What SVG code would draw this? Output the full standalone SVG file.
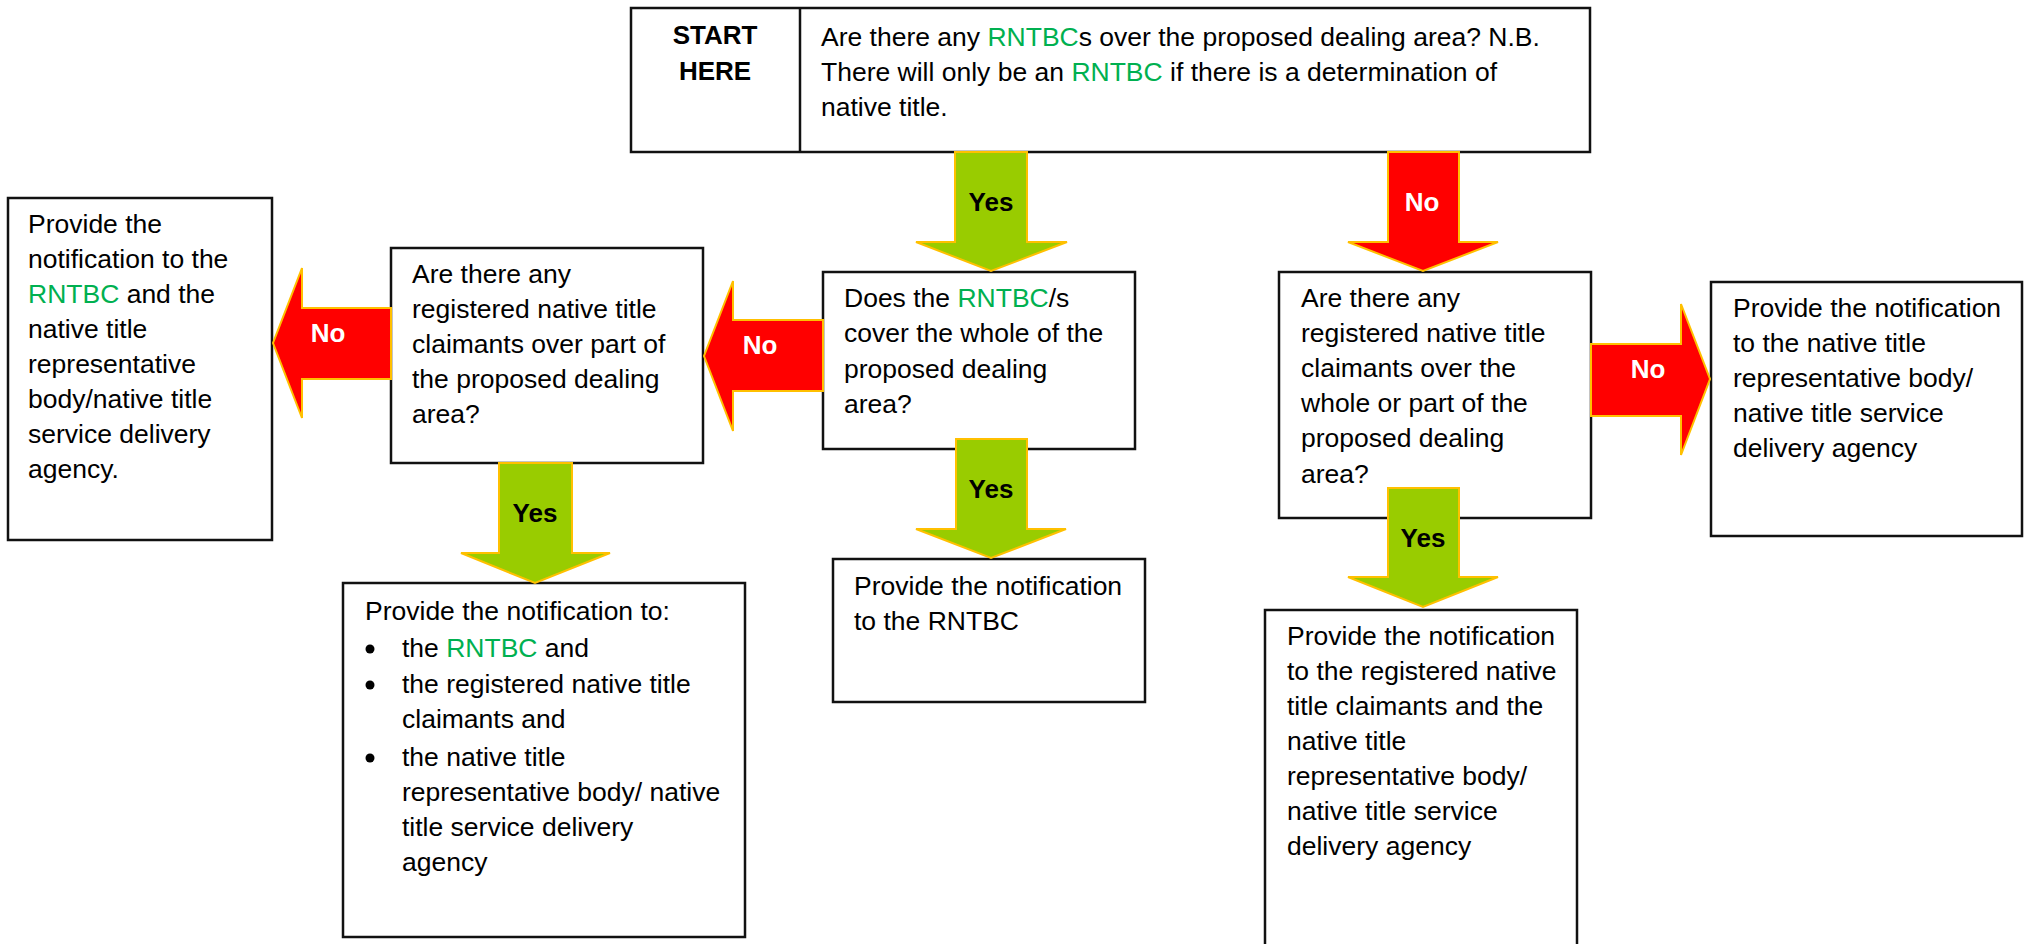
<svg xmlns="http://www.w3.org/2000/svg" width="2032" height="944" viewBox="0 0 2032 944">
<style>
  .box { fill: #ffffff; stroke: #111111; stroke-width: 2.5; }
  .t { font-family: "Liberation Sans", Arial, sans-serif; font-size: 26.5px; fill: #000000; }
  .b { font-family: "Liberation Sans", Arial, sans-serif; font-size: 26px; font-weight: bold; }
  .g { fill: #00B050; }
  .yes { fill: #99CC00; stroke: #FFC000; stroke-width: 2; stroke-linejoin: miter; }
  .no { fill: #FF0000; stroke: #FFC000; stroke-width: 2; stroke-linejoin: miter; }
  .lblY { fill: #000000; text-anchor: middle; }
  .lblN { fill: #ffffff; text-anchor: middle; }
</style>
<rect x="0" y="0" width="2032" height="944" fill="#ffffff"/>

<g id="start">
  <rect class="box" x="631" y="8" width="959" height="144"/>
  <line x1="800" y1="8" x2="800" y2="152" stroke="#111111" stroke-width="2.5"/>
  <text class="b" x="715" y="44" text-anchor="middle">START</text>
  <text class="b" x="715" y="80" text-anchor="middle">HERE</text>
  <text class="t" x="821" y="46">Are there any <tspan class="g">RNTBC</tspan>s over the proposed dealing area? N.B.</text>
  <text class="t" x="821" y="81">There will only be an <tspan class="g">RNTBC</tspan> if there is a determination of</text>
  <text class="t" x="821" y="116">native title.</text>
</g>

<g id="q-rntbc-whole">
  <rect class="box" x="823" y="272" width="312" height="177"/>
  <text class="t" x="844" y="307">Does the <tspan class="g">RNTBC</tspan>/s</text>
  <text class="t" x="844" y="342">cover the whole of the</text>
  <text class="t" x="844" y="378">proposed dealing</text>
  <text class="t" x="844" y="413">area?</text>
</g>

<g id="q-claimants-part">
  <rect class="box" x="391" y="248" width="312" height="215"/>
  <text class="t" x="412" y="283">Are there any</text>
  <text class="t" x="412" y="318">registered native title</text>
  <text class="t" x="412" y="353">claimants over part of</text>
  <text class="t" x="412" y="388">the proposed dealing</text>
  <text class="t" x="412" y="423">area?</text>
</g>

<g id="out-rntbc-rep">
  <rect class="box" x="8" y="198" width="264" height="342"/>
  <text class="t" x="28" y="233">Provide the</text>
  <text class="t" x="28" y="268">notification to the</text>
  <text class="t" x="28" y="303"><tspan class="g">RNTBC</tspan> and the</text>
  <text class="t" x="28" y="338">native title</text>
  <text class="t" x="28" y="373">representative</text>
  <text class="t" x="28" y="408">body/native title</text>
  <text class="t" x="28" y="443">service delivery</text>
  <text class="t" x="28" y="478">agency.</text>
</g>

<g id="out-all">
  <rect class="box" x="343" y="583" width="402" height="354"/>
  <text class="t" x="365" y="620">Provide the notification to:</text>
  <circle cx="370" cy="649" r="4.5" fill="#000"/>
  <circle cx="370" cy="685" r="4.5" fill="#000"/>
  <circle cx="370" cy="758" r="4.5" fill="#000"/>
  <text class="t" x="402" y="657">the <tspan class="g">RNTBC</tspan> and</text>
  <text class="t" x="402" y="693">the registered native title</text>
  <text class="t" x="402" y="728">claimants and</text>
  <text class="t" x="402" y="766">the native title</text>
  <text class="t" x="402" y="801">representative body/ native</text>
  <text class="t" x="402" y="836">title service delivery</text>
  <text class="t" x="402" y="871">agency</text>
</g>

<g id="out-rntbc">
  <rect class="box" x="833" y="559" width="312" height="143"/>
  <text class="t" x="854" y="595">Provide the notification</text>
  <text class="t" x="854" y="630">to the RNTBC</text>
</g>

<g id="q-claimants-whole">
  <rect class="box" x="1279" y="272" width="312" height="246"/>
  <text class="t" x="1301" y="307">Are there any</text>
  <text class="t" x="1301" y="342">registered native title</text>
  <text class="t" x="1301" y="377">claimants over the</text>
  <text class="t" x="1301" y="412">whole or part of the</text>
  <text class="t" x="1301" y="447">proposed dealing</text>
  <text class="t" x="1301" y="483">area?</text>
</g>

<g id="out-rep">
  <rect class="box" x="1711" y="282" width="311" height="254"/>
  <text class="t" x="1733" y="317">Provide the notification</text>
  <text class="t" x="1733" y="352">to the native title</text>
  <text class="t" x="1733" y="387">representative body/</text>
  <text class="t" x="1733" y="422">native title service</text>
  <text class="t" x="1733" y="457">delivery agency</text>
</g>

<g id="out-claimants-rep">
  <rect class="box" x="1265" y="610" width="312" height="360"/>
  <text class="t" x="1287" y="645">Provide the notification</text>
  <text class="t" x="1287" y="680">to the registered native</text>
  <text class="t" x="1287" y="715">title claimants and the</text>
  <text class="t" x="1287" y="750">native title</text>
  <text class="t" x="1287" y="785">representative body/</text>
  <text class="t" x="1287" y="820">native title service</text>
  <text class="t" x="1287" y="855">delivery agency</text>
</g>

<g id="connectors">
  <path class="yes" d="M955,152 H1027 V242 H1067 L991,271 L916,242 H955 Z"/>
  <text class="b lblY" x="991" y="211">Yes</text>

  <path class="no" d="M1388,152 H1459 V242 H1498 L1423,271 L1348,242 H1388 Z"/>
  <text class="b lblN" x="1422" y="211">No</text>

  <path class="no" d="M823,320 V391 H733 V431 L704,356 L733,281 V320 Z"/>
  <text class="b lblN" x="760" y="354">No</text>

  <path class="no" d="M391,308 V379 H302 V418 L273,343 L302,268 V308 Z"/>
  <text class="b lblN" x="328" y="342">No</text>

  <path class="yes" d="M499,463 H572 V553 H610 L535,583 L461,553 H499 Z"/>
  <text class="b lblY" x="535" y="522">Yes</text>

  <path class="yes" d="M956,439 H1027 V529 H1066 L991,558 L916,529 H956 Z"/>
  <text class="b lblY" x="991" y="498">Yes</text>

  <path class="yes" d="M1388,488 H1459 V577 H1498 L1423,607 L1348,577 H1388 Z"/>
  <text class="b lblY" x="1423" y="547">Yes</text>

  <path class="no" d="M1591,344 H1681 V304 L1710,379 L1681,455 V416 H1591 Z"/>
  <text class="b lblN" x="1648" y="378">No</text>
</g>
</svg>
